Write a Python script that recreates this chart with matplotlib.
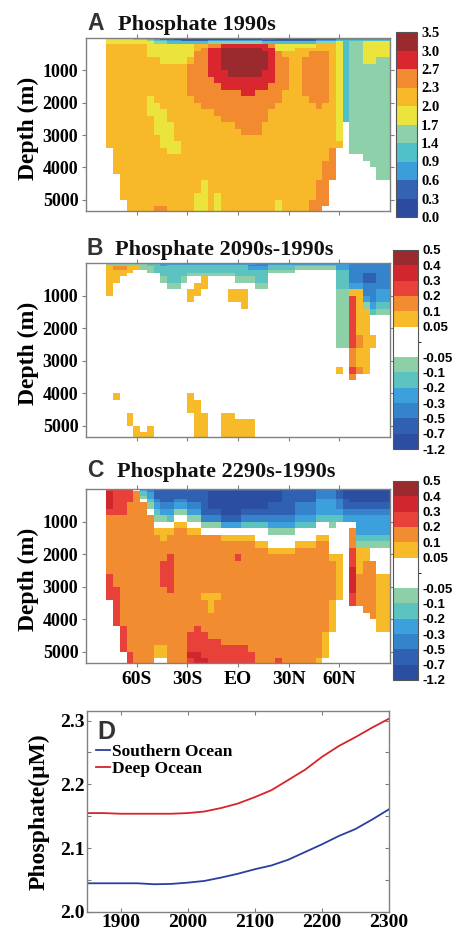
import numpy as np
import matplotlib
matplotlib.use("Agg")
import matplotlib.pyplot as plt
from matplotlib.colors import ListedColormap, BoundaryNorm
import matplotlib.cm as cm

plt.rcParams['font.family'] = ['Liberation Serif', 'DejaVu Serif']
plt.rcParams['font.weight'] = 'bold'
plt.rcParams['axes.labelweight'] = 'bold'

# ---------------- data ----------------
lat_edges = list(range(-90, 91, 4))                      # 45 latitude columns
depth_edges = [0, 50, 100, 200, 300, 400] + list(range(600, 5401, 200))  # 30 depth rows
lat_ticks = [-60, -30, 0, 30, 60]
lat_labels = ['60S', '30S', 'EO', '30N', '60N']
depth_ticks = [1000, 2000, 3000, 4000, 5000]

# Panel A classes (0..9 -> bins of the 0-3.5 scale), '.' = no ocean; one string per depth row
A_rows = [
    ".*3 5*4 4*2 3 2 1*2 0*13 1*2 0*6 1*3 2 2*7",
    ".*3 5*6 4 3*2 2*2 1*4 2*8 1*8 2*3 3*8",
    ".*3 5*7 4*2 3*6 4*8 3*8 4*3 5 3 4*2 5*4",
    ".*3 6*6 5*7 6*2 7*2 8*7 7 5*6 6*3 5 3 4*2 5*4",
    ".*3 6*6 5*7 6 7 8*2 9*6 8*2 5*3 6*6 5 3 4*2 5*4",
    ".*3 6*6 5*7 7*2 8*2 9*7 8 7 6*4 7*3 6 5 3 4*2 5*4",
    ".*3 6*8 5*4 6 7*2 8*2 9*7 8 7*2 6*2 7*4 6 5 3 4*2 5*2 4*2",
    ".*3 6*12 7*3 8*2 9*7 8 7*2 6*2 7*4 6 5 3 4*6",
    ".*3 6*12 7*3 8*3 9*5 8*2 7*2 6*2 7*4 6 5 3 4*6",
    ".*3 6*12 7*4 8*9 7*2 6*2 7*4 6 5 3 4*6",
    ".*3 6*12 7*5 8*7 7*3 6*2 7*4 6 5 3 4*6",
    ".*3 6*12 7*8 8*2 7*4 6*3 7*4 6 5 3 4*6",
    ".*3 6*6 5 6*6 7*13 6*4 7*3 6 5 3 4*6",
    ".*3 6*6 5*2 6*6 7*11 6*6 7 6*2 5 3 4*6",
    ".*3 6*6 5*3 6*7 7*8 6*10 5 3 4*6",
    ".*3 6*7 5*2 6*8 7*7 6*10 5 3 4*6",
    ".*3 6*7 5*3 6*9 7*4 6*11 5 . 4*6",
    ".*3 6*7 5*3 6*10 7*3 6*11 5 . 4*6",
    ".*3 6*8 5*2 6*24 5 . 4*6",
    ".*3 6*8 5*3 6*24 . 4*6",
    ".*4 6*8 5*2 6*22 7 .*2 4*6",
    ".*4 6*32 7 .*4 4*4",
    ".*4 6*31 7*2 .*5 4*3",
    ".*4 6*31 7*2 .*6 4*2",
    ".*5 6*30 7*2 .*6 4*2",
    ".*5 6*12 5 6*16 7*2 .*9",
    ".*5 6*12 5 6*16 7*2 .*9",
    ".*5 6*11 5*2 6 5 6*14 7*2 .*9",
    ".*6 6*10 5*2 6 5 6*8 5 6*4 7*3 .*9",
    ".*6 6*4 7*2 6*4 5*2 6 5 6*8 5 6*4 7*2 .*10",
]

# Panel B classes (a..k bins of the change scale, w = near zero); one string per depth row
B_rows = [
    "w*3 f*6 e*2 d*14 c*2 d*12 c*6",
    "w*3 f*6 e*2 d e*12 c*3 e*10 d*2 c*6",
    "w*3 g h*2 g*2 f*2 e*14 d*3 e*4 f*6 d*2 c*6",
    "w*3 g*4 w*2 f e*17 f*4 w*6 e*2 c*6",
    "w*3 g*3 w*5 e*4 f*7 e*5 w*10 e*2 c*2 b*2 c*2",
    "w*3 g*2 w*6 f e*2 f w*2 g w*4 f*3 e*2 w*10 e*2 c*2 b*2 c*2",
    "w*3 g w*8 f*2 w*2 g*2 w*7 f*2 w*10 e*2 d*2 c*4",
    "w*3 g w*11 g*2 w*4 g*3 w*13 f*2 g*2 c*2 d*2",
    "w*15 g w*5 g*3 w*13 f*2 i g d c d*2",
    "w*23 g w*13 f*2 i g f d e*2",
    "w*37 f*2 i g*2 e f*2",
    "w*37 f*2 i g*2 w*3",
    "w*37 f*2 i g*2 w*3",
    "w*37 f*2 i g*2 w*3",
    "w*37 f*2 i h g*2 w*2",
    "w*37 f*2 i h g*2 w*2",
    "w*38 i h g*2 w*3",
    "w*38 i h g*2 w*3",
    "w*38 i h g*2 w*3",
    "w*37 g w i h g w*3",
    "w*39 h w*5",
    "w*45",
    "w*45",
    "w*4 g w*10 g w*29",
    "w*4 g w*10 g*2 w*28",
    "w*15 g*2 w*28",
    "w*6 g w*9 g*2 w*2 g*2 w*23",
    "w*6 g w*9 g*2 w*2 g*5 w*20",
    "w*7 g w g w*6 g*2 w*2 g*5 w*20",
    "w*7 g*3 w*6 g*2 w*2 g*5 w*20",
]

# Panel C classes; one string per latitude column (surface -> bottom)
C_cols = [
    "w*30", "w*30", "w*30",
    "i j*5 i h*9 i*4 w*10",
    "i*7 h*11 i*6 w*6",
    "i*7 h*17 i*4 w*2",
    "i*5 h*23 i*2",
    "w h*29",
    "d e*2 f w h*25",
    "c*2 d*2 e f w h*23",
    "b*4 c d e f w g h*17 g*2 w",
    "b*5 c d f w g*2 h*3 i*4 h*9 g*2 w",
    "b*5 c d e w g h*3 i*6 h*11",
    "b*4 c d f w g h*21",
    "b*4 c d f w g h*21",
    "b*5 c d f w g h*15 i*3 j i",
    "b*5 c d f w g h*14 i*4 j*2",
    "b*7 c f w h*9 g h*5 i*4 j",
    "b a*5 b c f w h*9 g*3 h*4 i*4",
    "b a*5 b c f w h*9 g h*6 i*4",
    "b a*6 b d w g h*16 i*3",
    "b a*6 b d w g h*16 i*3",
    "b a*6 b d w g h*2 i h*13 i*3",
    "b a*5 b c e w g h*16 i*3",
    "b a*5 b c e w g h*17 i*2",
    "b a*5 b c e w*2 g h*18",
    "b a*5 b c e w*2 g h*18",
    "b a*4 b*2 c d f w*2 g h*17",
    "b a*4 b*2 c d f w*2 g h*16 i",
    "b*7 c d f w*2 g h*17",
    "b*7 c d f w*2 g h*17",
    "b*5 c*2 d e w*2 g h*18",
    "b*5 c*2 d e w*2 g h*18",
    "b*5 c*2 d e w*2 g h*18",
    "c*4 d*3 e w*2 g h*18 g",
    "c*4 d*3 e w*2 g h*14 g*4 w",
    "c*4 d*3 e f w*4 g h*6 g*5 w*5",
    "b*4 c*2 d e w*5 g*7 w*10",
    "a*4 b*2 c d w*22",
    "a*5 b c d w h*3 i*3 j*4 i*2 w*9",
    "a*5 b c d*3 e f g*4 h*5 w*9",
    "a*5 b c d*3 e f g*2 h*8 w*8",
    "a*5 b c d*3 e f w*2 h*9 w*7",
    "a*5 b c d*3 e f w*4 g*9 w*5",
    "a*5 b c d*3 e f w*4 g*9 w*5",
]

A_bounds = [0.0, 0.3, 0.6, 0.9, 1.4, 1.7, 2.0, 2.3, 2.7, 3.0, 3.5]
A_colors = ['#2b4b9e', '#3463b3', '#3b9edb', '#4fc0c6', '#8dd0aa', '#ebe43c',
            '#f7b92a', '#f28a2f', '#d9262f', '#9b2a2f']
A_class_val = {'0': 0.15, '1': 0.45, '2': 0.75, '3': 1.15, '4': 1.55, '5': 1.85,
               '6': 2.15, '7': 2.5, '8': 2.85, '9': 3.25, '.': np.nan}

D_bounds = [-1.2, -0.7, -0.5, -0.3, -0.2, -0.1, -0.05, 0.0, 0.05, 0.1, 0.2, 0.3, 0.4, 0.5]
D_colors = ['#2b4ea1', '#2f60b1', '#3583cb', '#3ba0dc', '#5cc3c0', '#8dd0a8',
            '#ffffff', '#ffffff', '#f7bb2a', '#f28c30', '#e8413a', '#d2262e', '#9b2a2e']
D_ticks = [-1.2, -0.7, -0.5, -0.3, -0.2, -0.1, -0.05, 0.05, 0.1, 0.2, 0.3, 0.4, 0.5]
D_ticklabels = ['-1.2', '-0.7', '-0.5', '-0.3', '-0.2', '-0.1', '-0.05',
                '0.05', '0.1', '0.2', '0.3', '0.4', '0.5']
D_class_val = {'a': -0.95, 'b': -0.6, 'c': -0.4, 'd': -0.25, 'e': -0.15, 'f': -0.075,
               'w': 0.0, 'g': 0.075, 'h': 0.15, 'i': 0.25, 'j': 0.35, 'k': 0.45, '.': np.nan}

years = [1850, 1875, 1900, 1925, 1950, 1975, 2000, 2025, 2050, 2075, 2100,
         2125, 2150, 2175, 2200, 2225, 2250, 2275, 2300]
southern_ocean = [2.045, 2.045, 2.045, 2.045, 2.0435, 2.044, 2.046, 2.0487, 2.054, 2.060,
                  2.067, 2.073, 2.082, 2.094, 2.106, 2.119, 2.130, 2.145, 2.161]
deep_ocean = [2.155, 2.155, 2.154, 2.154, 2.154, 2.154, 2.155, 2.1575, 2.163, 2.170,
              2.180, 2.191, 2.207, 2.223, 2.243, 2.260, 2.274, 2.289, 2.303]


# ---------------- helpers ----------------
def decode(s, n):
    out = []
    for tok in s.split():
        if '*' in tok:
            c, k = tok.split('*')
            out.extend([c] * int(k))
        else:
            out.append(tok)
    if len(out) < n:
        out += [out[-1]] * (n - len(out))
    return out[:n]


nlat = len(lat_edges) - 1
ndep = len(depth_edges) - 1
gridA = np.array([[A_class_val[c] for c in decode(r, nlat)] for r in A_rows])
land = np.isnan(gridA)
gridB = np.array([[D_class_val[c] for c in decode(r, nlat)] for r in B_rows])
gridB[land] = np.nan
gridC = np.array([[D_class_val[c] for c in decode(col, ndep)] for col in C_cols]).T
gridC[land] = np.nan

W, H = 460, 932
fig = plt.figure(figsize=(W / 100, H / 100), dpi=100)


def px_axes(l, t, r, b):
    return fig.add_axes([l / W, 1 - b / H, (r - l) / W, (b - t) / H])


GRAY = '#808080'
cmapA = ListedColormap(A_colors)
normA = BoundaryNorm(A_bounds, cmapA.N)
cmapD = ListedColormap(D_colors)
normD = BoundaryNorm(D_bounds, cmapD.N)


def section(ax, grid, cmap, norm, xlabels):
    ax.pcolormesh(lat_edges, depth_edges, np.ma.masked_invalid(grid), cmap=cmap,
                  norm=norm, shading='flat', antialiased=False, linewidth=0)
    ax.set_xlim(-90, 90)
    ax.set_ylim(5350, 0)
    ax.set_xticks(lat_ticks)
    ax.set_yticks(depth_ticks)
    ax.set_yticklabels([str(d) for d in depth_ticks], fontsize=13, fontweight='bold')
    if xlabels:
        ax.set_xticklabels(lat_labels, fontsize=14, fontweight='bold')
    else:
        ax.set_xticklabels([])
    ax.tick_params(direction='out', top=True, right=True, length=3, width=0.8,
                   color=GRAY, pad=2.5)
    for s in ax.spines.values():
        s.set_color(GRAY)
        s.set_linewidth(1.0)
    ax.set_ylabel('Depth (m)', fontsize=17, fontweight='bold')
    ax.yaxis.set_label_coords(-0.155, 0.48)


def colorbar(cax, cmap, norm, bounds, ticks, labels, font, size):
    cb = fig.colorbar(cm.ScalarMappable(norm=norm, cmap=cmap), cax=cax,
                      boundaries=bounds, spacing='uniform', ticks=ticks)
    cb.ax.set_yticklabels(labels, fontsize=size, fontweight='bold', family=font)
    cb.ax.tick_params(length=0, pad=3)
    cb.outline.set_edgecolor('#555555')
    cb.outline.set_linewidth(0.8)


axA = px_axes(86, 38, 390, 211)
section(axA, gridA, cmapA, normA, False)
caxA = px_axes(396, 32, 417, 217)
colorbar(caxA, cmapA, normA, A_bounds, A_bounds, ['%.1f' % b for b in A_bounds],
         ['Liberation Serif'], 10.5)

axB = px_axes(86, 263, 390, 437)
section(axB, gridB, cmapD, normD, False)
caxB = px_axes(393, 250, 418, 449)
colorbar(caxB, cmapD, normD, D_bounds, D_ticks, D_ticklabels, ['Liberation Sans'], 9.5)

axC = px_axes(86, 489, 390, 663)
section(axC, gridC, cmapD, normD, True)
caxC = px_axes(393, 481, 418, 680)
colorbar(caxC, cmapD, normD, D_bounds, D_ticks, D_ticklabels, ['Liberation Sans'], 9.5)

# titles
letter_font = ['Liberation Sans Narrow', 'Liberation Sans', 'DejaVu Sans']
for letter, title, base, tx in [('A', 'Phosphate 1990s', 30, 118),
                                ('B', 'Phosphate 2090s-1990s', 255, 115),
                                ('C', 'Phosphate 2290s-1990s', 477, 117)]:
    fig.text(87 / W, 1 - base / H, letter, family=letter_font, fontsize=16.5,
             fontweight='bold', color='#333333', va='baseline', ha='left')
    fig.text(tx / W, 1 - base / H, title, fontsize=16, fontweight='bold',
             color='#111111', va='baseline', ha='left')

# panel D
axD = px_axes(87, 711, 389, 912)
axD.plot(years, southern_ocean, color='#2b3f9e', lw=1.3, label='Southern Ocean')
axD.plot(years, deep_ocean, color='#d8232a', lw=1.3, label='Deep Ocean')
axD.set_xlim(1850, 2300)
axD.set_ylim(2.0, 2.315)
axD.set_xticks([1900, 2000, 2100, 2200, 2300])
axD.set_yticks([2.0, 2.1, 2.2, 2.3])
axD.set_yticks([2.05, 2.15, 2.25], minor=True)
axD.set_xticklabels(['1900', '2000', '2100', '2200', '2300'], fontsize=14, fontweight='bold')
axD.set_yticklabels(['2.0', '2.1', '2.2', '2.3'], fontsize=14, fontweight='bold')
axD.tick_params(which='both', direction='in', top=True, right=True, length=3,
                width=0.8, color=GRAY, pad=1.5)
for s in axD.spines.values():
    s.set_color(GRAY)
    s.set_linewidth(1.0)
axD.set_ylabel('Phosphate(\u03bcM)', fontsize=17, fontweight='bold')
axD.yaxis.set_label_coords(-0.125, 0.5)
axD.text(0.033, 0.955, 'D', transform=axD.transAxes, family=letter_font,
         fontsize=18, fontweight='bold', color='#333333', va='top', ha='left')
axD.legend(loc='upper left', bbox_to_anchor=(0.03, 0.835), frameon=False,
           handlelength=0.8, handletextpad=0.1, labelspacing=0.05,
           borderaxespad=0, borderpad=0, prop={'weight': 'bold', 'size': 12.5})

fig.savefig('out.png', dpi=100)
